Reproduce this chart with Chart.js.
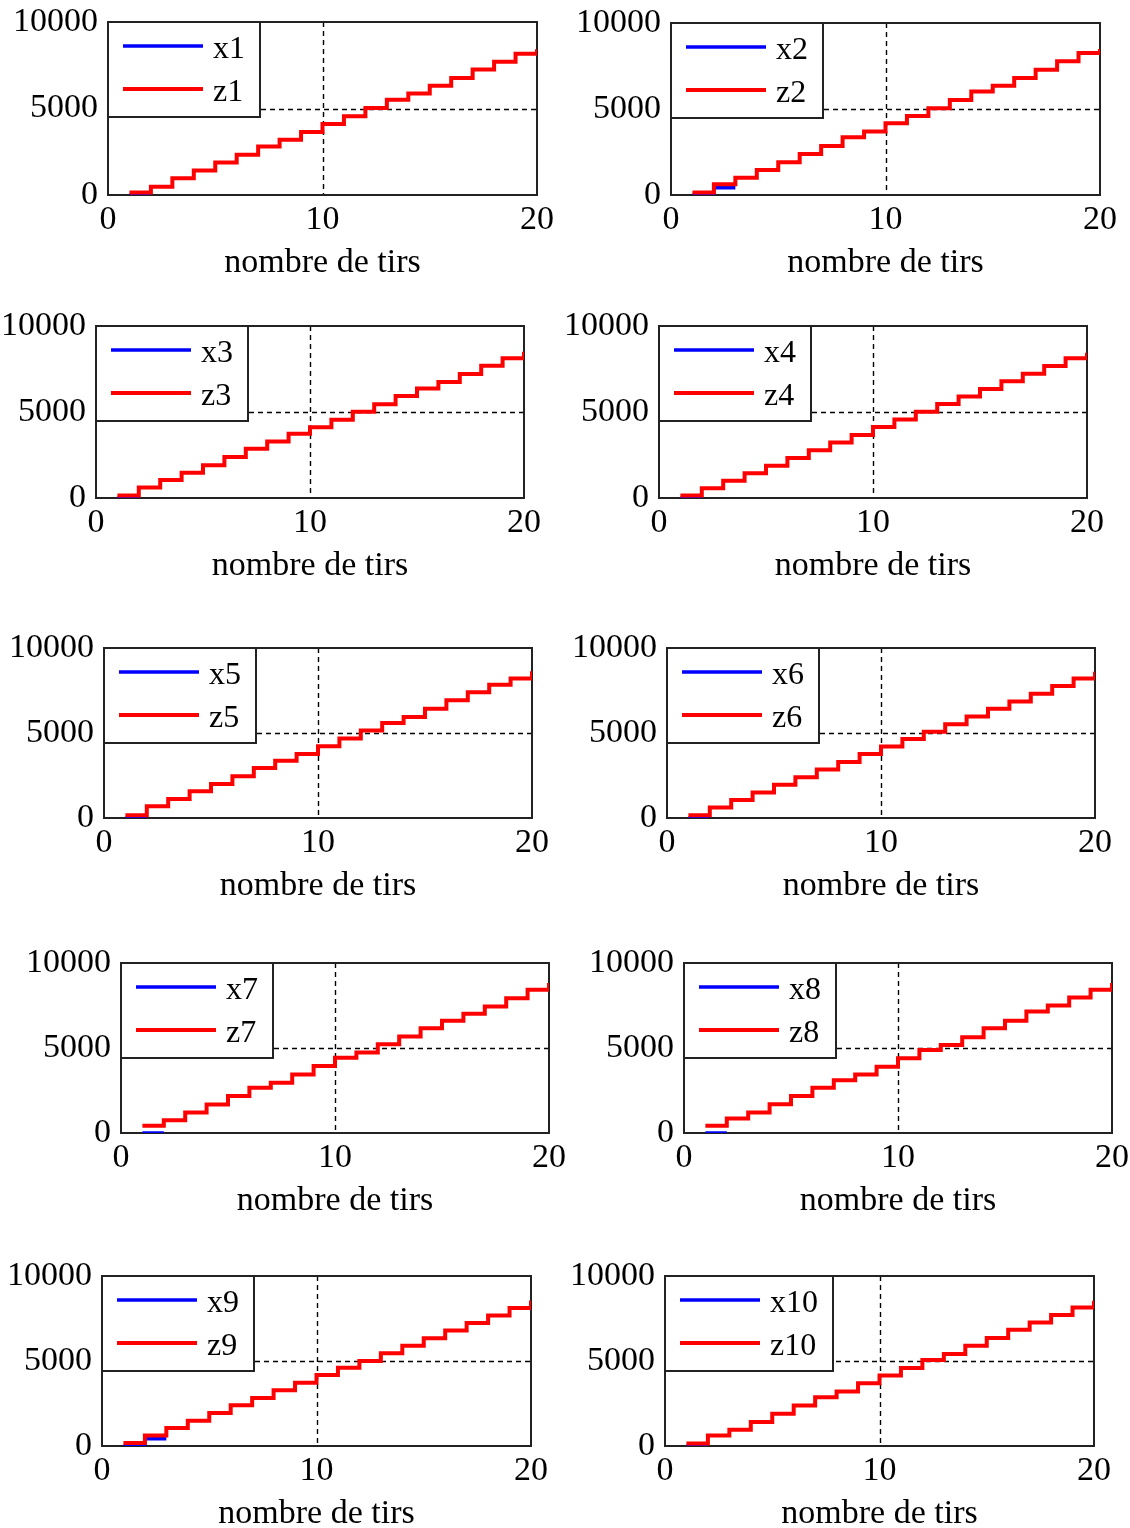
<!DOCTYPE html>
<html>
<head>
<meta charset="utf-8">
<script src="https://cdn.jsdelivr.net/npm/chart.js@4.4.1/dist/chart.umd.min.js"></script>
<style>
  html, body { margin: 0; padding: 0; background: #ffffff; }
  #page { position: relative; width: 1130px; height: 1528px; overflow: hidden; background: #ffffff; }
  #page canvas { position: absolute; }
</style>
</head>
<body>
<div id="page"></div>
<script>
// Shot numbers (x values of every step)
const tirs = [1, 2, 3, 4, 5, 6, 7, 8, 9, 10, 11, 12, 13, 14, 15, 16, 17, 18, 19, 20];

// Axis ticks
const xTicks = [0, 10, 20];
const yTicks = [0, 5000, 10000];
const xTitle = 'nombre de tirs';

// Series x1..x10 (blue): only the first shots are defined
const x1 = [0, 0];
const x2 = [0, 420, 420];
const x3 = [0, 0];
const x4 = [0, 0];
const x5 = [0, 0];
const x6 = [0, 0];
const x7 = [0, 0];
const x8 = [0, 0];
const x9 = [0, 430, 430];
const x10 = [0, 0];

// Series z1..z10 (red): cumulated value after each shot
const z1 = [140, 480, 970, 1410, 1880, 2320, 2800, 3190, 3640, 4100, 4550, 5030, 5510, 5860, 6320, 6770, 7250, 7700, 8160, 8420];
const z2 = [150, 620, 1010, 1460, 1900, 2390, 2850, 3360, 3690, 4170, 4600, 5050, 5530, 6020, 6350, 6800, 7280, 7770, 8250, 8490];
const z3 = [150, 610, 1050, 1470, 1910, 2390, 2870, 3290, 3730, 4110, 4550, 5010, 5450, 5930, 6370, 6750, 7210, 7690, 8130, 8510];
const z4 = [150, 560, 1000, 1440, 1880, 2330, 2780, 3230, 3660, 4130, 4570, 5020, 5460, 5900, 6340, 6790, 7230, 7680, 8130, 8450];
const z5 = [160, 690, 1120, 1570, 2000, 2450, 2940, 3370, 3760, 4220, 4670, 5140, 5590, 5940, 6430, 6920, 7390, 7840, 8200, 8630];
const z6 = [160, 620, 1060, 1500, 1950, 2400, 2860, 3300, 3760, 4210, 4650, 5080, 5520, 5970, 6420, 6860, 7310, 7760, 8200, 8600];
const z7 = [420, 750, 1200, 1670, 2170, 2660, 2950, 3440, 3940, 4430, 4740, 5220, 5670, 6160, 6610, 7010, 7440, 7930, 8430, 8820];
const z8 = [420, 850, 1200, 1690, 2170, 2660, 3110, 3440, 3900, 4390, 4880, 5180, 5630, 6160, 6610, 7150, 7500, 7970, 8430, 8820];
const z9 = [170, 620, 1060, 1490, 1940, 2390, 2830, 3280, 3720, 4170, 4610, 5000, 5450, 5900, 6340, 6790, 7230, 7680, 8120, 8560];
const z10 = [140, 620, 960, 1410, 1890, 2380, 2870, 3200, 3690, 4140, 4590, 5060, 5410, 5900, 6350, 6840, 7270, 7710, 8140, 8540];

const xSeries = [x1, x2, x3, x4, x5, x6, x7, x8, x9, x10];
const zSeries = [z1, z2, z3, z4, z5, z6, z7, z8, z9, z10];

// Plot-area placement of each panel on the page (left, top, width, height)
const plotBoxes = [
  [108, 22, 429, 173], [671, 23, 429, 172],
  [96, 326, 428, 172], [659, 326, 428, 172],
  [104, 648, 428, 170], [667, 648, 428, 170],
  [121, 963, 428, 170], [684, 963, 428, 170],
  [102, 1276, 429, 170], [665, 1276, 429, 170]
];

const SERIF = "'Liberation Serif', 'Times New Roman', serif";
const TICK_FONT = { family: SERIF, size: 34 };
const LEGEND_SIZE = 32;
const AXIS_W = 120, AXIS_H = 95, PAD_TOP = 34, PAD_RIGHT = 40;

// Frame of the plot and dashed lines at the inner ticks
const framePlugin = {
  id: 'frame',
  beforeDatasetsDraw(chart) {
    const { ctx, chartArea: a, scales } = chart;
    ctx.save();
    ctx.strokeStyle = '#000';
    ctx.lineWidth = 1.4;
    ctx.setLineDash([5, 4]);
    xTicks.slice(1, -1).forEach(v => {
      const px = Math.round(scales.x.getPixelForValue(v)) + 0.5;
      ctx.beginPath(); ctx.moveTo(px, a.top); ctx.lineTo(px, a.bottom); ctx.stroke();
    });
    yTicks.slice(1, -1).forEach(v => {
      const py = Math.round(scales.y.getPixelForValue(v)) + 0.5;
      ctx.beginPath(); ctx.moveTo(a.left, py); ctx.lineTo(a.right, py); ctx.stroke();
    });
    ctx.setLineDash([]);
    ctx.strokeStyle = '#222';
    ctx.lineWidth = 2;
    ctx.strokeRect(a.left, a.top, a.right - a.left, a.bottom - a.top);
    ctx.restore();
  },
  afterDatasetsDraw(chart) {
    // Boxed legend in the upper-left corner of the plot
    const { ctx, chartArea: a } = chart;
    const sets = chart.data.datasets;
    ctx.save();
    ctx.font = `${LEGEND_SIZE}px ${SERIF}`;
    const textW = Math.max(...sets.map(d => ctx.measureText(d.label).width));
    const boxW = Math.round(105 + textW + 15);
    const boxH = 95;
    ctx.fillStyle = '#fff';
    ctx.fillRect(a.left, a.top, boxW, boxH);
    ctx.strokeStyle = '#222';
    ctx.lineWidth = 2;
    ctx.strokeRect(a.left, a.top, boxW, boxH);
    const rowY = [24, 67];
    sets.forEach((d, i) => {
      const y = a.top + rowY[i];
      ctx.strokeStyle = d.borderColor;
      ctx.lineWidth = d.borderWidth;
      ctx.beginPath(); ctx.moveTo(a.left + 15, y); ctx.lineTo(a.left + 95, y); ctx.stroke();
      ctx.fillStyle = '#000';
      ctx.textAlign = 'left';
      ctx.textBaseline = 'middle';
      ctx.fillText(d.label, a.left + 105, y + 4);
    });
    ctx.restore();
  }
};

const page = document.getElementById('page');

plotBoxes.forEach(([L, T, W, H], i) => {
  const canvas = document.createElement('canvas');
  canvas.width = AXIS_W + W + PAD_RIGHT;
  canvas.height = PAD_TOP + H + AXIS_H;
  canvas.style.left = (L - AXIS_W) + 'px';
  canvas.style.top = (T - PAD_TOP) + 'px';
  page.appendChild(canvas);

  const n = i + 1;
  const xs = xSeries[i], zs = zSeries[i];

  new Chart(canvas, {
    type: 'line',
    data: {
      datasets: [
        {
          label: 'x' + n,
          data: xs.map((v, k) => ({ x: tirs[k], y: v })),
          borderColor: '#0000ff',
          borderWidth: 3.5,
          stepped: 'before',
          pointRadius: 0,
          fill: false,
          order: 2,
          borderJoinStyle: 'miter',
          borderCapStyle: 'butt'
        },
        {
          label: 'z' + n,
          data: zs.map((v, k) => ({ x: tirs[k], y: v })),
          borderColor: '#ff0000',
          borderWidth: 4,
          stepped: 'before',
          pointRadius: 0,
          fill: false,
          order: 1,
          borderJoinStyle: 'miter',
          borderCapStyle: 'butt'
        }
      ]
    },
    options: {
      responsive: false,
      animation: false,
      devicePixelRatio: 1,
      layout: { padding: { left: 0, top: PAD_TOP, right: PAD_RIGHT, bottom: 0 } },
      plugins: { legend: { display: false }, tooltip: { enabled: false } },
      scales: {
        x: {
          type: 'linear',
          min: xTicks[0], max: xTicks[xTicks.length - 1],
          afterBuildTicks: s => { s.ticks = xTicks.map(v => ({ value: v })); },
          afterFit: s => { s.height = AXIS_H; },
          grid: { display: false, drawTicks: false },
          border: { display: false },
          ticks: { font: TICK_FONT, color: '#000', padding: 5, maxRotation: 0, autoSkip: false, callback: v => String(v) },
          title: { display: true, text: xTitle, font: TICK_FONT, color: '#000', padding: { top: 0, bottom: 7 } }
        },
        y: {
          type: 'linear',
          min: yTicks[0], max: yTicks[yTicks.length - 1],
          afterBuildTicks: s => { s.ticks = yTicks.map(v => ({ value: v })); },
          afterFit: s => { s.width = AXIS_W; },
          grid: { display: false, drawTicks: false },
          border: { display: false },
          ticks: { font: TICK_FONT, color: '#000', padding: 10, autoSkip: false, callback: v => String(v) }
        }
      }
    },
    plugins: [framePlugin]
  });
});
</script>
</body>
</html>
